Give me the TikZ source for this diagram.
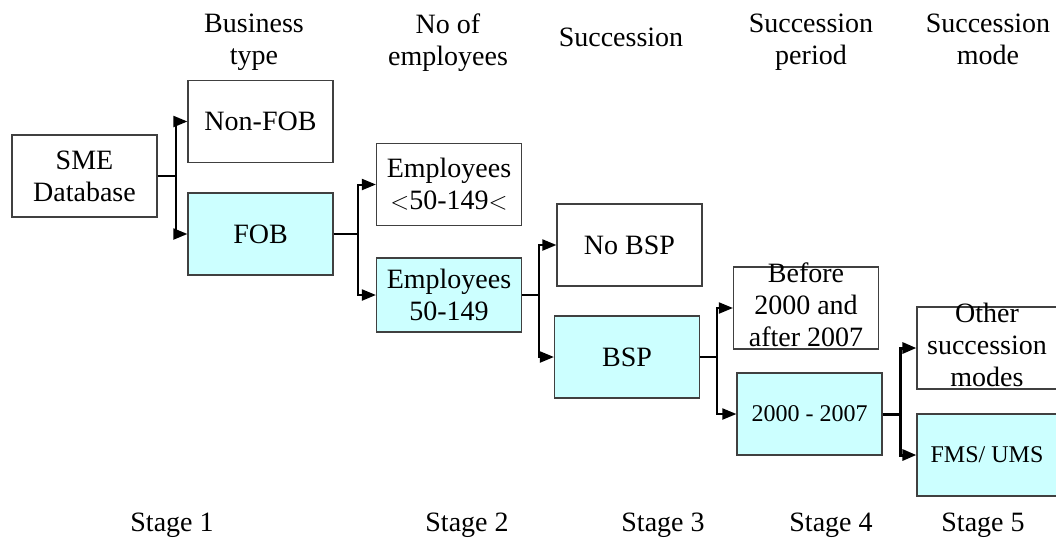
\documentclass[tikz,border=0pt]{standalone}
\usepackage{fontspec}
\setmainfont{Liberation Serif}
\usetikzlibrary{positioning, arrows.meta}

\definecolor{fobcyan}{HTML}{CCFFFF}
\newcommand{\boxfont}{\fontsize{28}{32}\selectfont}
\newcommand{\smallboxfont}{\fontsize{24}{28}\selectfont}
\newcommand{\overflowtext}[1]{\smash{\raisebox{-6.6pt}{\begin{tabular}{@{}c@{}}#1\end{tabular}}}}

\begin{document}
\begin{tikzpicture}[x=1pt, y=-1pt, on grid, font=\boxfont,
	choice/.style={draw=black!75, line width=1.2pt, minimum width=145pt, minimum height=82pt, inner sep=0pt, align=center},
	picked/.style={choice, fill=fobcyan},
	heading/.style={align=center},
	link/.style={line width=2pt, -{Triangle[length=14pt,width=11pt]}}]
			
			\useasboundingbox (0,0) rectangle (1056,539);
			
			% stage 1
			\node[choice] (sme) at (84.5,176) {SME\\Database};
			\node[choice, above right=54.5pt and 176pt of sme] (nonfob) {Non-FOB};
			\node[picked, below right=58pt and 176pt of sme] (fob) {FOB};
			
			% stage 2
			\node[choice, above right=49.5pt and 188.5pt of fob] (emplow) {Employees\\$<$50-149$<$};
			\node[picked, minimum height=74pt, below right=61pt and 188.5pt of fob] (empmid) {Employees\\50-149};
			
			% stage 3
			\node[choice, above right=50pt and 180.5pt of empmid] (nobsp) {No BSP};
			\node[picked, below right=62pt and 178pt of empmid] (bsp) {BSP};
			
			% stage 4
			\node[choice, above right=49pt and 179pt of bsp] (before) {\overflowtext{Before\\2000 and\\after 2007}};
			\node[picked, font=\smallboxfont, below right=57pt and 182.5pt of bsp] (period) {2000 - 2007};
			
			% stage 5
			\node[choice, minimum width=140pt, above right=66pt and 177.5pt of period] (other) {\overflowtext{Other\\succession\\modes}};
			\node[picked, minimum width=140pt, font=\smallboxfont, below right=41pt and 177.5pt of period] (fms) {FMS/ UMS};
			
			\draw[link] (sme.east) -- ++(18,0) |- (nonfob);
			\draw[link] (sme.east) -- ++(18,0) |- (fob);
			\draw[link] (fob.east) -- ++(24,0) |- (emplow);
			\draw[link] (fob.east) -- ++(24,0) |- (empmid);
			\draw[link] (empmid.east) -- ++(17,0) |- (nobsp);
			\draw[link] (empmid.east) -- ++(17,0) |- (bsp);
			\draw[link] (bsp.east) -- ++(17,0) |- (before);
			\draw[link] (bsp.east) -- ++(17,0) |- (period);
			\draw[link, line width=3pt] (period.east) -- ++(17.5,0) |- (other);
			\draw[link, line width=3pt] (period.east) -- ++(17.5,0) |- (fms);
			
			% headings
			\node[heading] (hbiz) at (254,42.5) {Business\\type};
			\node[heading] (hemp) at (448,42.5) {No of\\employees};
			\node[heading] (hsucc) at (621,37.5) {Succession};
			\node[heading] (hperiod) at (811,42.5) {Succession\\period};
			\node[heading] (hmode) at (988,39.5) {Succession\\mode};
			
			% stages
			\node[anchor=base] (st1) at (172,531) {Stage 1};
			\node[anchor=base] (st2) at (467,531) {Stage 2};
			\node[anchor=base] (st3) at (663,531) {Stage 3};
			\node[anchor=base] (st4) at (831,531) {Stage 4};
			\node[anchor=base] (st5) at (983,531) {Stage 5};
			
		\end{tikzpicture}
\end{document}
